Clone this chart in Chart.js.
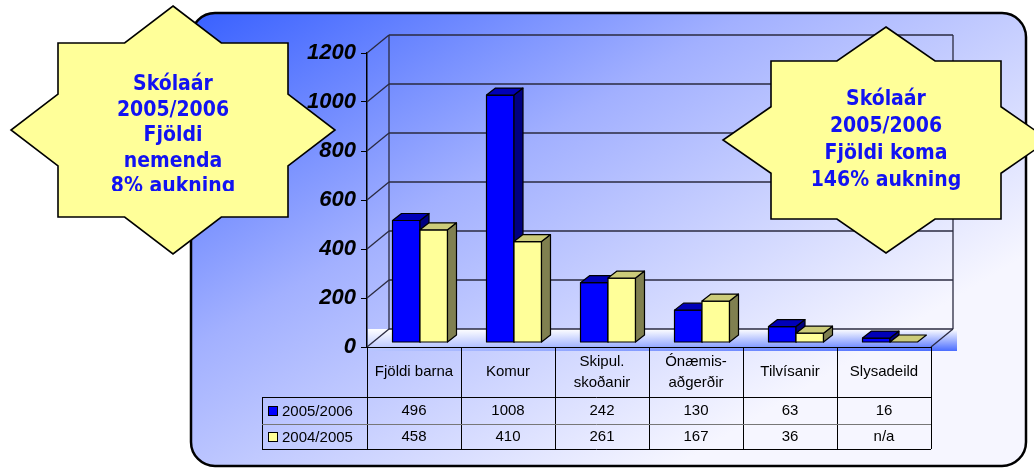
<!DOCTYPE html>
<html>
<head>
<meta charset="utf-8">
<script src="https://cdn.jsdelivr.net/npm/chart.js@4"></script>
<style>
  html, body { margin: 0; padding: 0; background: #fff; }
  canvas { display: block; }
</style>
</head>
<body>
<canvas id="chart" width="1034" height="468"></canvas>
<script>
// values
const categories = [['Fjöldi barna'], ['Komur'], ['Skipul.', 'skoðanir'], ['Ónæmis-', 'aðgerðir'], ['Tilvísanir'], ['Slysadeild']];
const seriesNames = ['2005/2006', '2004/2005'];
const values2006 = [496, 1008, 242, 130, 63, 16];
const values2005 = [458, 410, 261, 167, 36, null]; // n/a for Slysadeild
const yTicks = [0, 200, 400, 600, 800, 1000, 1200];
const leftNote = ['Skólaár', '2005/2006', 'Fjöldi', 'nemenda', '8% aukning'];
const rightNote = ['Skólaár', '2005/2006', 'Fjöldi koma', '146% aukning'];

// colours for front / top / side faces of each series
const faces = [
  { front: '#0000ff', top: '#0000b8', side: '#000080' },
  { front: '#ffff99', top: '#cccc7a', side: '#808050' },
];

const WALL = { x: 22, y: -18 };      // offset of the back wall
const SHIFT = { x: 6, y: -5 };       // where the bars sit in depth
const DEPTH = { x: 9, y: -7 };       // bar thickness
const LINE = '#2a2a40';

const starLeft = { cx: 173, cy: 130, rx: 162, ry: 124, hx: 115, hy: 87, base: 90, gap: 25.5, clip: 191 };
const starRight = { cx: 886, cy: 140, rx: 163, ry: 113, hx: 115, hy: 79, base: 105, gap: 27, clip: 468 };

function poly(ctx, pts, fill) {
  ctx.beginPath();
  pts.forEach(([x, y], i) => (i ? ctx.lineTo(x, y) : ctx.moveTo(x, y)));
  ctx.closePath();
  if (fill) { ctx.fillStyle = fill; ctx.fill(); }
  ctx.stroke();
}

function line(ctx, x1, y1, x2, y2) {
  ctx.beginPath();
  ctx.moveTo(x1, y1);
  ctx.lineTo(x2, y2);
  ctx.stroke();
}

function noteFont(ctx) {
  const fam = '"DejaVu Sans Condensed", "DejaVu Sans", sans-serif';
  ctx.font = 'bold 21px ' + fam;
  const w = ctx.measureText('2005/2006').width;
  const size = Math.min(21, 21 * 113 / w);
  return 'bold ' + size.toFixed(1) + 'px ' + fam;
}

function drawStar(ctx, s, lines) {
  const a = s.rx * (1 - s.hy / s.ry), b = s.ry * (1 - s.hx / s.rx);
  const rel = [[0, -s.ry], [a, -s.hy], [s.hx, -s.hy], [s.hx, -b], [s.rx, 0], [s.hx, b], [s.hx, s.hy], [a, s.hy],
    [0, s.ry], [-a, s.hy], [-s.hx, s.hy], [-s.hx, b], [-s.rx, 0], [-s.hx, -b], [-s.hx, -s.hy], [-a, -s.hy]];
  ctx.save();
  ctx.lineWidth = 1.6;
  ctx.strokeStyle = '#000';
  ctx.lineJoin = 'miter';
  poly(ctx, rel.map(([x, y]) => [s.cx + x, s.cy + y]), '#ffff99');
  ctx.beginPath();
  ctx.rect(s.cx - s.rx, 0, s.rx * 2, s.clip);
  ctx.clip();
  ctx.font = noteFont(ctx);
  ctx.fillStyle = '#1212f2';
  ctx.textAlign = 'center';
  ctx.textBaseline = 'alphabetic';
  lines.forEach((t, i) => ctx.fillText(t, s.cx, s.base + i * s.gap));
  ctx.restore();
}

const backdrop = {
  id: 'backdrop',
  beforeDraw(chart) {
    const ctx = chart.ctx;
    ctx.save();
    const g = ctx.createLinearGradient(191, 13, 520, 560);
    g.addColorStop(0, '#3860ff');
    g.addColorStop(0.45, '#a2b0ff');
    g.addColorStop(1, '#f6f6ff');
    ctx.beginPath();
    ctx.roundRect(191, 13, 835, 453, 24);
    ctx.fillStyle = g;
    ctx.fill();
    ctx.lineWidth = 2.5;
    ctx.strokeStyle = '#000';
    ctx.stroke();
    ctx.restore();
    drawStar(ctx, starLeft, leftNote);
  },
  afterDraw(chart) {
    drawStar(chart.ctx, starRight, rightNote);
  },
};

const bars3d = {
  id: 'bars3d',
  beforeDatasetsDraw(chart) {
    const { ctx, chartArea: area, scales: { y } } = chart;
    const y0 = y.getPixelForValue(0);
    ctx.save();
    // floor strip
    const fg = ctx.createLinearGradient(0, y0 + WALL.y, 0, y0 + 4);
    fg.addColorStop(0, '#ffffff');
    fg.addColorStop(1, '#4a6cff');
    ctx.fillStyle = fg;
    ctx.fillRect(area.left + 1, y0 + WALL.y, area.right - area.left + WALL.x + 3, -WALL.y + 4);
    const fw = ctx.createLinearGradient(area.left, 0, area.right, 0);
    fw.addColorStop(0, 'rgba(255,255,255,0.6)');
    fw.addColorStop(1, 'rgba(255,255,255,0)');
    ctx.fillStyle = fw;
    ctx.fillRect(area.left + 1, y0 + WALL.y, area.right - area.left + WALL.x + 3, -WALL.y + 4);

    ctx.strokeStyle = LINE;
    ctx.lineWidth = 1.3;
    const bx0 = area.left + WALL.x, bx1 = area.right + WALL.x;
    yTicks.forEach((v) => {
      const py = y.getPixelForValue(v);
      line(ctx, area.left, py, bx0, py + WALL.y);
      line(ctx, bx0, py + WALL.y, bx1, py + WALL.y);
    });
    line(ctx, bx0, area.top + WALL.y, bx0, y0 + WALL.y);
    line(ctx, bx1, area.top + WALL.y, bx1, y0 + WALL.y);
    line(ctx, area.right, y0, bx1, y0 + WALL.y);
    ctx.restore();
  },
  afterDatasetsDraw(chart) {
    const { ctx, scales: { y } } = chart;
    const base = y.getPixelForValue(0) + SHIFT.y;
    ctx.save();
    ctx.strokeStyle = '#000';
    ctx.lineWidth = 1.2;
    ctx.lineJoin = 'round';
    categories.forEach((_, i) => {
      chart.data.datasets.forEach((ds, d) => {
        const el = chart.getDatasetMeta(d).data[i];
        const v = ds.data[i];
        const l = el.x - el.width / 2 + SHIFT.x;
        const r = el.x + el.width / 2 + SHIFT.x;
        const top = y.getPixelForValue(v == null ? 0 : v) + SHIFT.y;
        const c = faces[d];
        if (v != null) {
          poly(ctx, [[l, top], [r, top], [r, base], [l, base]], c.front);
          poly(ctx, [[r, top], [r + DEPTH.x, top + DEPTH.y], [r + DEPTH.x, base + DEPTH.y], [r, base]], c.side);
        }
        poly(ctx, [[l, top], [l + DEPTH.x, top + DEPTH.y], [r + DEPTH.x, top + DEPTH.y], [r, top]], c.top);
      });
    });
    ctx.restore();
  },
};

const dataTable = {
  id: 'dataTable',
  afterDatasetsDraw(chart) {
    const { ctx, chartArea: area, scales: { x } } = chart;
    const step = (area.right - area.left) / categories.length;
    const top = area.bottom, headBottom = top + 50, mid = headBottom + 27, bottom = mid + 25;
    const labelLeft = 262;
    ctx.save();
    ctx.strokeStyle = '#000';
    ctx.lineWidth = 1;
    line(ctx, area.left, top + 0.5, area.right, top + 0.5);
    line(ctx, labelLeft, headBottom + 0.5, area.right, headBottom + 0.5);
    line(ctx, labelLeft, bottom + 0.5, area.right, bottom + 0.5);
    line(ctx, labelLeft + 0.5, headBottom, labelLeft + 0.5, bottom);
    for (let i = 0; i <= categories.length; i++) {
      const px = Math.round(area.left + i * step) + 0.5;
      line(ctx, px, top, px, bottom);
    }
    ctx.strokeStyle = '#777';
    line(ctx, labelLeft, mid + 0.5, area.right, mid + 0.5);

    ctx.fillStyle = '#000';
    ctx.font = '15px "Liberation Sans", Arial, sans-serif';
    ctx.textAlign = 'center';
    ctx.textBaseline = 'middle';
    categories.forEach((lab, i) => {
      const cx = x.getPixelForValue(i);
      if (lab.length === 1) ctx.fillText(lab[0], cx, top + 25);
      else lab.forEach((t, k) => ctx.fillText(t, cx, top + 15 + k * 21));
    });
    const rows = [values2006, values2005];
    const rowY = [headBottom + 14, mid + 13];
    rows.forEach((vals, r) => {
      vals.forEach((v, i) => ctx.fillText(v == null ? 'n/a' : String(v), x.getPixelForValue(i), rowY[r]));
    });
    ctx.textAlign = 'left';
    seriesNames.forEach((name, r) => {
      ctx.fillStyle = faces[r].front;
      ctx.fillRect(268.5, rowY[r] - 4.5, 9, 9);
      ctx.strokeStyle = '#000';
      ctx.strokeRect(268.5, rowY[r] - 4.5, 9, 9);
      ctx.fillStyle = '#000';
      ctx.fillText(name, 282, rowY[r] + 1);
    });
    ctx.restore();
  },
};

Chart.defaults.font.family = '"Liberation Sans", Arial, sans-serif';

new Chart(document.getElementById('chart'), {
  type: 'bar',
  data: {
    labels: categories.map((c) => c.join(' ')),
    datasets: [
      { label: seriesNames[0], data: values2006 },
      { label: seriesNames[1], data: values2005 },
    ].map((ds) => ({
      ...ds,
      backgroundColor: 'rgba(0,0,0,0)',
      borderWidth: 0,
      categoryPercentage: 0.585,
      barPercentage: 1,
    })),
  },
  options: {
    responsive: false,
    animation: false,
    devicePixelRatio: 1,
    layout: { padding: { top: 53, right: 103, bottom: 121, left: 0 } },
    plugins: { legend: { display: false }, tooltip: { enabled: false } },
    scales: {
      x: { display: false },
      y: {
        min: 0,
        max: 1200,
        afterBuildTicks(scale) { scale.ticks = yTicks.map((v) => ({ value: v })); },
        afterFit(scale) { scale.width = 367; },
        ticks: {
          color: '#000',
          padding: 5,
          font: { size: 22, weight: 'bold', style: 'italic' },
          callback: (v) => String(v),
        },
        grid: { drawOnChartArea: false, drawTicks: true, tickLength: 6, color: '#000' },
        border: { color: '#000', width: 1.5 },
      },
    },
  },
  plugins: [backdrop, bars3d, dataTable],
});
</script>
</body>
</html>
